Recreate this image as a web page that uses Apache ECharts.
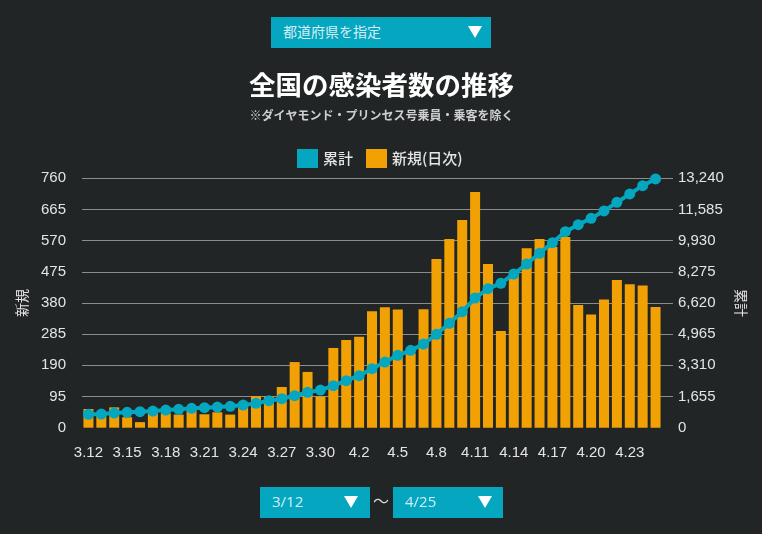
<!DOCTYPE html>
<html>
<head>
<meta charset="UTF-8">
<title>全国の感染者数の推移</title>
<style>
html, body { margin: 0; padding: 0; background: #212526; overflow: hidden; }
#main { position: absolute; left: 0; top: 0; width: 762px; height: 534px; }
.drop { position: absolute; height: 31px; background: #05a6c0; color: #d5eef3;
        font: 14px/29px "Noto Sans CJK JP", "Noto Sans", sans-serif; padding-left: 12px; box-sizing: border-box; }
.drop.num { font: 15px/29px "Open Sans", "Noto Sans", sans-serif; }
.drop i { position: absolute; top: 9px; width: 0; height: 0; border-left: 7px solid transparent;
          border-right: 7px solid transparent; border-top: 12px solid #fff; }
#tilde { position: absolute; left: 373px; top: 489px; color: #ddd; font: 16px/22px "Noto Sans CJK JP", sans-serif; }
</style>
</head>
<body>
<div id="main"></div>
<div class="drop" style="left:271px;top:17px;width:220px;">都道府県を指定<i style="left:197px;"></i></div>
<div class="drop num" style="left:260px;top:487px;width:110px;">3/12<i style="left:84px;"></i></div>
<div id="tilde">～</div>
<div class="drop num" style="left:393px;top:487px;width:110px;">4/25<i style="left:85px;"></i></div>
<script src="https://cdn.jsdelivr.net/npm/echarts@6/dist/echarts.min.js"></script>
<script>
var days = ['3.12','3.13','3.14','3.15','3.16','3.17','3.18','3.19','3.20','3.21','3.22','3.23','3.24','3.25','3.26',
	'3.27','3.28','3.29','3.30','3.31','4.1','4.2','4.3','4.4','4.5','4.6','4.7','4.8','4.9','4.10','4.11','4.12',
	'4.13','4.14','4.15','4.16','4.17','4.18','4.19','4.20','4.21','4.22','4.23','4.24','4.25'];
// 新規(日次)
var daily = [57,40,62,32,17,45,44,40,55,41,47,40,65,96,95,
	124,200,170,95,243,267,277,355,367,360,227,361,514,575,633,718,499,
	295,465,547,575,551,581,374,345,391,450,437,433,368];
// 累計
var total = [708,725,779,814,850,885,938,973,1027,1062,1097,1133,1204,1292,1434,
	1540,1699,1876,2000,2230,2496,2761,3133,3487,3841,4106,4443,4956,5540,6160,6885,7381,
	7664,8160,8691,9257,9824,10408,10779,11116,11505,11965,12408,12850,13204];
var leftMax = 760, leftStep = 95;
var rightMax = 13240, rightStep = 1655;
var rightTicks = [1655,3310,4965,6620,8275,9930,11585,13240];

var font = '"Liberation Sans", Arial, "Noto Sans CJK JP", sans-serif';
var jp = '"Noto Sans CJK JP", sans-serif';
var textColor = '#e4e4e4', gridColor = '#8b8d8d';

var myChart = echarts.init(document.getElementById('main'));
var option = {
	backgroundColor: '#212526',
	animation: false,
	title: {
		text: '全国の感染者数の推移',
		subtext: '※ダイヤモンド・プリンセス号乗員・乗客を除く',
		left: 376.5, top: 63, textAlign: 'center', itemGap: 5,
		textStyle: { color: '#fff', fontFamily: jp, fontSize: 26.5, fontWeight: 'bold', lineHeight: 34 },
		subtextStyle: { color: '#cfcfcf', fontFamily: jp, fontSize: 12, fontWeight: 'bold', lineHeight: 16 }
	},
	legend: {
		left: 292, top: 144, itemWidth: 21, itemHeight: 19, itemGap: 13,
		icon: 'rect',
		data: ['累計', '新規(日次)'],
		textStyle: { color: textColor, fontFamily: jp, fontSize: 15, fontWeight: 500 }
	},
	grid: { left: 82, width: 580, top: 178.3, height: 249.4 },
	xAxis: {
		type: 'category',
		data: days,
		axisLine: { show: false },
		axisTick: { show: false },
		axisLabel: { interval: 2, color: textColor, fontFamily: font, fontSize: 15, margin: 18 }
	},
	yAxis: [
		{
			type: 'value', min: 0, max: leftMax, interval: leftStep,
			name: '新規', nameLocation: 'middle', nameGap: 53, nameRotate: 90,
			nameTextStyle: { color: textColor, fontFamily: jp, fontSize: 14 },
			axisLine: { show: false },
			axisTick: { show: false },
			axisLabel: { color: textColor, fontFamily: font, fontSize: 15, margin: 16, padding: [2, 0, 0, 0] },
			splitLine: { show: true, showMinLine: false, lineStyle: { color: gridColor, width: 1 } }
		},
		{
			type: 'value', min: 0, max: rightMax, interval: rightStep,
			name: '累計', nameLocation: 'middle', nameGap: 69, nameRotate: -90,
			nameTextStyle: { color: textColor, fontFamily: jp, fontSize: 14 },
			axisLine: { show: false },
			axisTick: { show: true, length: 11, customValues: rightTicks, lineStyle: { color: gridColor, width: 1 } },
			axisLabel: {
				color: textColor, fontFamily: font, fontSize: 15, margin: 16, padding: [2, 0, 0, 0],
				formatter: function (v) { return v.toLocaleString('en-US'); }
			},
			splitLine: { show: false }
		}
	],
	series: [
		{
			name: '累計', type: 'line', yAxisIndex: 1, data: total, z: 5,
			symbol: 'circle', symbolSize: 11, showSymbol: true, showAllSymbol: true,
			itemStyle: { color: '#05a6c0' },
			lineStyle: { color: '#05a6c0', width: 4 }
		},
		{
			name: '新規(日次)', type: 'bar', yAxisIndex: 0, data: daily, z: 2,
			barWidth: 10,
			itemStyle: { color: '#f2a104' }
		}
	]
};
myChart.setOption(option);
</script>
</body>
</html>
